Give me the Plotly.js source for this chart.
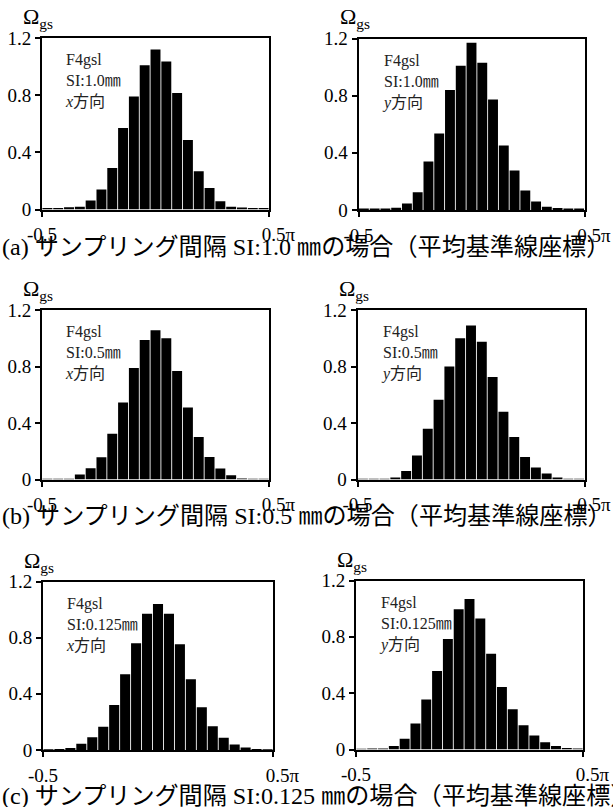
<!DOCTYPE html>
<html>
<head>
<meta charset="utf-8">
<script src="https://cdn.plot.ly/plotly-3.0.1.min.js"></script>
<style>html,body{margin:0;padding:0;background:#fff;}#chart{width:613px;height:807px;}</style>
</head>
<body>
<div id="chart"></div>
<script>
// ---- data (bin heights, 21 bins from -0.5π to 0.5π) ----
const binCount = 21;
const binCenters = Array.from({length: binCount}, (_, i) => -0.5 + (i + 0.5) / binCount);

const si10_x = [0.01,0.01,0.015,0.02,0.063,0.14,0.29,0.57,0.79,1.01,1.12,1.035,0.815,0.487,0.268,0.15,0.058,0.02,0.014,0.01,0.01];
const si10_y = [0.01,0.01,0.01,0.015,0.045,0.124,0.34,0.536,0.84,1.01,1.17,1.03,0.773,0.452,0.276,0.136,0.059,0.023,0.014,0.01,0.01];
const si05_x = [0.005,0.005,0.005,0.035,0.08,0.158,0.324,0.546,0.79,0.988,1.057,1.0,0.768,0.51,0.30,0.16,0.078,0.03,0.007,0.005,0.005];
const si05_y = [0.005,0.005,0.005,0.014,0.06,0.17,0.36,0.565,0.80,1.0,1.09,0.975,0.725,0.48,0.30,0.16,0.085,0.043,0.014,0.005,0.005];
const si0125_x = [0.005,0.007,0.014,0.045,0.09,0.166,0.32,0.54,0.76,0.97,1.04,0.97,0.753,0.503,0.304,0.17,0.088,0.04,0.017,0.007,0.005];
const si0125_y = [0.005,0.007,0.007,0.024,0.076,0.184,0.355,0.558,0.785,0.995,1.068,0.93,0.68,0.444,0.286,0.172,0.1,0.052,0.024,0.01,0.007];

const xTickVals = [-0.5, 0.5];
const xTickText = ['-0.5', '\u00A0\u00A0\u00A0\u00A00.5π'];
const yTickVals = [0, 0.4, 0.8, 1.2];
const yTickText = ['0', '0.4', '0.8', '1.2'];

const panelLabels = ['SI:1.0㎜', 'SI:1.0㎜', 'SI:0.5㎜', 'SI:0.5㎜', 'SI:0.125㎜', 'SI:0.125㎜'];
const directionLabels = ['x', 'y', 'x', 'y', 'x', 'y'];
const specimen = 'F4gsl';
const captions = [
  '(a) サンプリング間隔 SI:1.0 ㎜の場合（平均基準線座標）',
  '(b) サンプリング間隔 SI:0.5 ㎜の場合（平均基準線座標）',
  '(c) サンプリング間隔 SI:0.125 ㎜の場合（平均基準線座標）'
];
const series = [si10_x, si10_y, si05_x, si05_y, si0125_x, si0125_y];

// ---- layout (pixel boxes of each panel) ----
const W = 613, H = 807;
const boxes = [
  {l: 42, r: 269, t: 38, b: 209.5},
  {l: 358.5, r: 584.5, t: 38.5, b: 210},
  {l: 42, r: 269, t: 310, b: 479.5},
  {l: 357.5, r: 584.5, t: 310, b: 479.5},
  {l: 43, r: 273, t: 581.5, b: 750},
  {l: 356, r: 583, t: 580.5, b: 749.5}
];
const captionY = [247, 516, 796];

const serif = 'Liberation Serif, Noto Sans CJK JP, serif';
const px = v => v / W, py = v => 1 - v / H;

const data = [];
const layout = {
  width: W, height: H,
  margin: {l: 0, r: 0, t: 0, b: 0},
  paper_bgcolor: '#fff', plot_bgcolor: '#fff',
  showlegend: false,
  bargap: 0.08,
  font: {family: serif, color: '#000'},
  annotations: []
};

boxes.forEach((bx, i) => {
  const n = i + 1;
  const xa = 'x' + (n === 1 ? '' : n), ya = 'y' + (n === 1 ? '' : n);
  data.push({
    type: 'bar', x: binCenters, y: series[i],
    xaxis: xa, yaxis: ya,
    marker: {color: '#000', line: {width: 0}},
    hoverinfo: 'skip'
  });
  const axCommon = {
    showline: true, mirror: true, linecolor: '#000', linewidth: 2,
    ticks: 'outside', ticklen: 5, tickwidth: 2, tickcolor: '#000',
    showgrid: false, zeroline: false, fixedrange: true,
    tickfont: {family: serif, size: 19, color: '#000'}
  };
  layout['xaxis' + (n === 1 ? '' : n)] = Object.assign({}, axCommon, {
    domain: [px(bx.l), px(bx.r)], anchor: ya,
    range: [-0.5, 0.5], tickmode: 'array', tickvals: xTickVals, ticktext: xTickText,
    ticklabelstandoff: 2
  });
  layout['yaxis' + (n === 1 ? '' : n)] = Object.assign({}, axCommon, {
    domain: [py(bx.b), py(bx.t)], anchor: xa,
    range: [0, 1.2], tickmode: 'array', tickvals: yTickVals, ticktext: yTickText
  });
  // Ω_gs label above the y axis
  layout.annotations.push({
    xref: 'paper', yref: 'paper', x: px(bx.l - 21), y: py(bx.t - 20),
    xanchor: 'left', yanchor: 'middle', showarrow: false,
    text: 'Ω<sub>gs</sub>', font: {family: serif, size: 22, color: '#000'}
  });
  // panel text
  layout.annotations.push({
    xref: 'paper', yref: 'paper', x: px(bx.l + 21), y: py(bx.t + 11),
    xanchor: 'left', yanchor: 'top', align: 'left', showarrow: false,
    text: specimen + '<br>' + panelLabels[i] + '<br><i>' + directionLabels[i] + '</i>方向',
    font: {family: serif, size: 16, color: '#222'}
  });
});

captions.forEach((c, k) => {
  layout.annotations.push({
    xref: 'paper', yref: 'paper', x: 0, y: py(captionY[k]),
    xanchor: 'left', yanchor: 'middle', showarrow: false,
    text: c, font: {family: serif, size: 24.1, color: '#000'}
  });
});

Plotly.newPlot('chart', data, layout, {staticPlot: true, displayModeBar: false});
</script>
</body>
</html>
